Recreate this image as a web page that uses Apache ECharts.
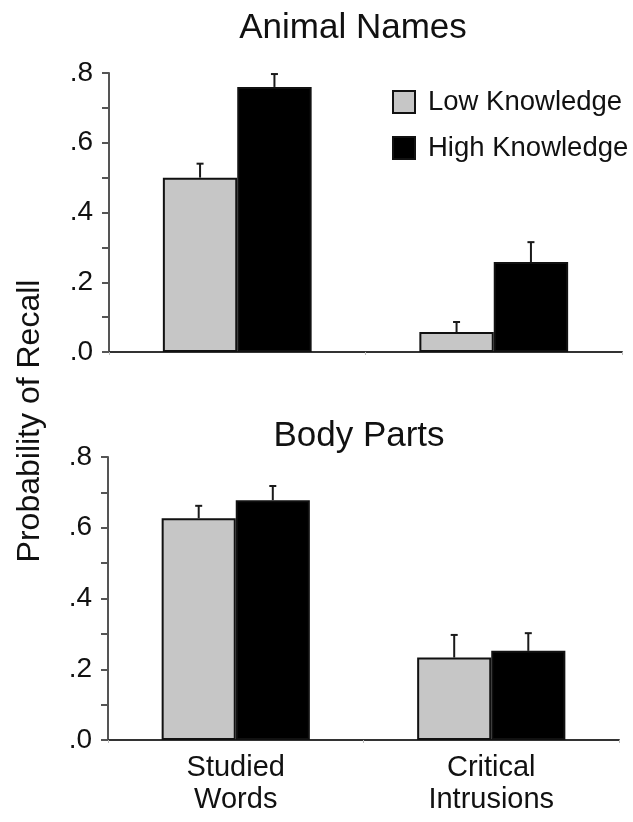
<!DOCTYPE html>
<html>
<head>
<meta charset="utf-8">
<script src="https://cdn.jsdelivr.net/npm/echarts@6/dist/echarts.min.js"></script>
<style>html,body{margin:0;padding:0;background:#fff;}#c{width:633px;height:822px;}</style>
</head>
<body>
<div id="c"></div>
<script>
const categories = ['Studied\nWords', 'Critical\nIntrusions'];
const seriesNames = ['Low Knowledge', 'High Knowledge'];
const animalLow = [0.50, 0.057];
const animalLowErr = [0.04, 0.029];
const animalHigh = [0.76, 0.258];
const animalHighErr = [0.037, 0.057];
const bodyLow = [0.627, 0.233];
const bodyLowErr = [0.035, 0.064];
const bodyHigh = [0.678, 0.252];
const bodyHighErr = [0.04, 0.05];
const yTicks = [0, 0.2, 0.4, 0.6, 0.8];

const FONT = '"Liberation Sans", Arial, Helvetica, sans-serif';
const GAP = 0.42;

function errSeries(vals, errs, idx, sign) {
  return {
    type: 'custom', xAxisIndex: idx, yAxisIndex: idx, z: 5, silent: true,
    data: vals.map((v, i) => [i, v, errs[i]]),
    encode: {x: 0, y: 1},
    renderItem: function (params, api) {
      const ci = api.value(0), v = api.value(1), e = api.value(2);
      const base = api.coord([ci, v]);
      const top = api.coord([ci, v + e]);
      const bandW = api.size([1, 0])[0];
      const barW = bandW * (1 - GAP) / 2;
      const x = base[0] + sign * barW / 2;
      const st = {stroke: '#1a1a1a', lineWidth: 2};
      return {type: 'group', children: [
        {type: 'line', shape: {x1: x, y1: base[1], x2: x, y2: top[1]}, style: st},
        {type: 'line', shape: {x1: x - 3.5, y1: top[1], x2: x + 3.5, y2: top[1]}, style: st}
      ]};
    }
  };
}

function barSeries(name, vals, idx, fill) {
  return {
    name: name, type: 'bar', xAxisIndex: idx, yAxisIndex: idx,
    data: vals, barGap: '0%', barCategoryGap: (GAP * 100) + '%',
    itemStyle: {color: fill, borderColor: '#111', borderWidth: 2},
    emphasis: {disabled: true}
  };
}

function yAxis(idx) {
  return {
    type: 'value', gridIndex: idx, min: 0, max: 0.8, interval: 0.2,
    axisLine: {show: true, lineStyle: {color: '#555', width: 2}},
    axisTick: {show: true, inside: false, length: 7, lineStyle: {color: '#555', width: 2}},
    minorTick: {show: true, splitNumber: 2, length: 7, lineStyle: {color: '#555', width: 2}},
    splitLine: {show: false},
    axisLabel: {
      fontSize: 28, color: '#111', fontFamily: FONT, margin: 16,
      formatter: v => yTicks.indexOf(Math.round(v * 10) / 10) >= 0 ? v.toFixed(1).replace(/^0/, '') : ''
    }
  };
}

function xAxis(idx, showLabels) {
  return {
    type: 'category', gridIndex: idx, data: categories,
    axisLine: {show: true, lineStyle: {color: '#333', width: 2}},
    axisTick: {show: true, length: 3, lineStyle: {color: '#bbb', width: 1}},
    axisLabel: {show: showLabels, fontSize: 29, lineHeight: 32, color: '#111', fontFamily: FONT, margin: 12}
  };
}

const chart = echarts.init(document.getElementById('c'), null, {renderer: 'canvas'});
chart.setOption({
  animation: false,
  backgroundColor: '#fff',
  textStyle: {fontFamily: FONT},
  grid: [
    {left: 109, right: 11, top: 73, height: 279},
    {left: 108, right: 14, top: 457, height: 283}
  ],
  legend: {
    data: seriesNames, orient: 'vertical', left: 392, top: 88, padding: 0,
    itemWidth: 22, itemHeight: 22, itemGap: 18, icon: 'rect',
    selectedMode: false,
    textStyle: {fontSize: 27.5, color: '#111', fontFamily: FONT, padding: [0, 0, 0, 8]}
  },
  xAxis: [xAxis(0, false), xAxis(1, true)],
  yAxis: [yAxis(0), yAxis(1)],
  graphic: [
    {type: 'text', style: {text: 'Animal Names', x: 353, y: 28, align: 'center', verticalAlign: 'middle', fontSize: 35, fontFamily: FONT, fill: '#111'}},
    {type: 'text', style: {text: 'Body Parts', x: 359, y: 436, align: 'center', verticalAlign: 'middle', fontSize: 35, fontFamily: FONT, fill: '#111'}},
    {type: 'text', x: 30, y: 421, rotation: Math.PI / 2, style: {text: 'Probability of Recall', x: 0, y: 0, align: 'center', verticalAlign: 'middle', fontSize: 32, fontFamily: FONT, fill: '#111'}}
  ],
  series: [
    barSeries(seriesNames[0], animalLow, 0, '#c6c6c6'),
    barSeries(seriesNames[1], animalHigh, 0, '#000'),
    barSeries(seriesNames[0], bodyLow, 1, '#c6c6c6'),
    barSeries(seriesNames[1], bodyHigh, 1, '#000'),
    errSeries(animalLow, animalLowErr, 0, -1),
    errSeries(animalHigh, animalHighErr, 0, 1),
    errSeries(bodyLow, bodyLowErr, 1, -1),
    errSeries(bodyHigh, bodyHighErr, 1, 1)
  ]
});
</script>
</body>
</html>
